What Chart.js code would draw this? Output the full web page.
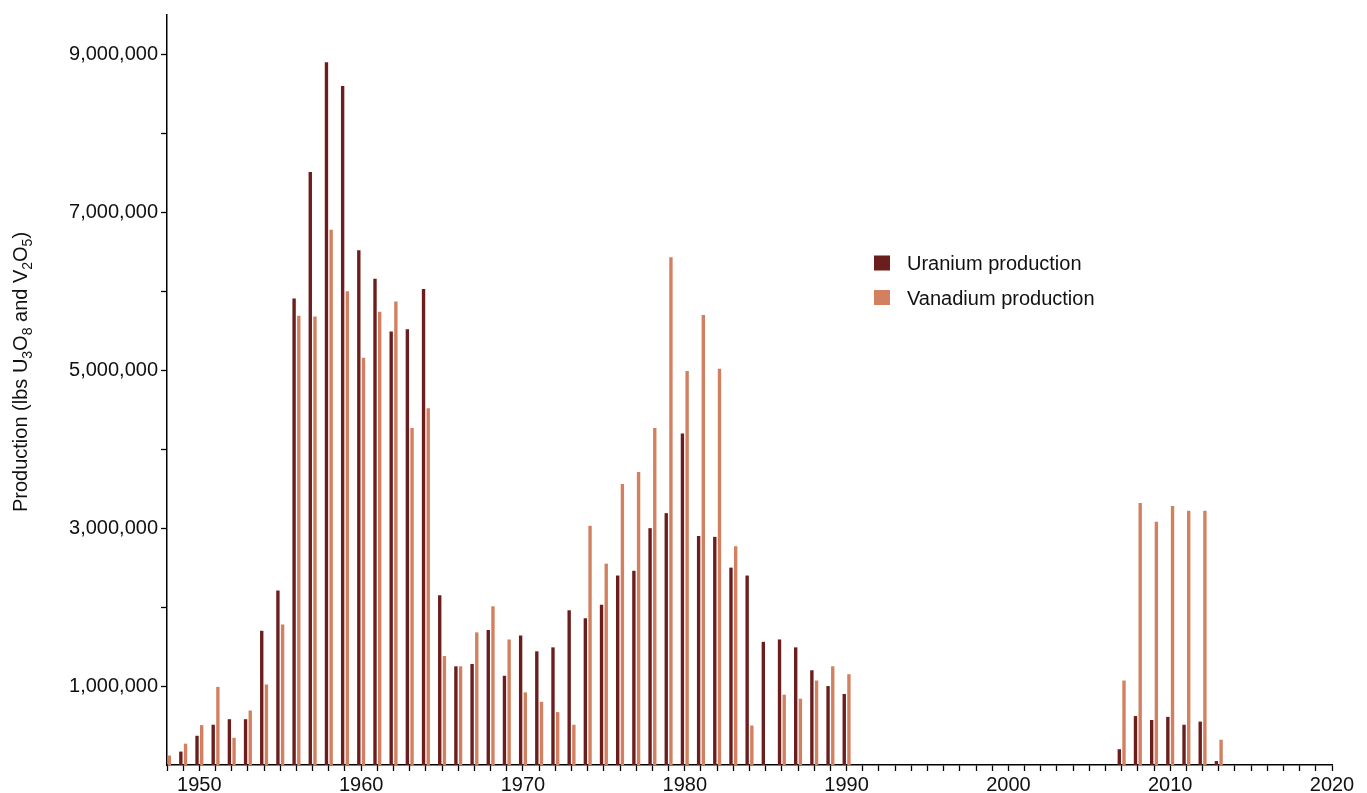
<!DOCTYPE html>
<html>
<head>
<meta charset="utf-8">
<script src="https://cdn.jsdelivr.net/npm/chart.js@4.4.1/dist/chart.umd.min.js"></script>
<style>
  html, body { margin: 0; padding: 0; background: #ffffff; }
  #wrap { width: 1367px; height: 793px; position: relative; }
</style>
</head>
<body>
<div id="wrap"><canvas id="chart"></canvas></div>
<script>
// Annual production, pounds of U3O8 and V2O5
const years = [
  1948, 1949, 1950, 1951, 1952, 1953, 1954, 1955, 1956, 1957,
  1958, 1959, 1960, 1961, 1962, 1963, 1964, 1965, 1966, 1967,
  1968, 1969, 1970, 1971, 1972, 1973, 1974, 1975, 1976, 1977,
  1978, 1979, 1980, 1981, 1982, 1983, 1984, 1985, 1986, 1987,
  1988, 1989, 1990,
  2007, 2008, 2009, 2010, 2011, 2012, 2013
];

const uranium = [
  null,    170000,  370000,  510000,  580000,  580000,  1700000, 2210000, 5910000, 7510000,
  8900000, 8600000, 6520000, 6160000, 5490000, 5520000, 6030000, 2150000, 1250000, 1280000,
  1710000, 1130000, 1640000, 1440000, 1490000, 1960000, 1860000, 2030000, 2400000, 2460000,
  3000000, 3190000, 4200000, 2900000, 2890000, 2500000, 2400000, 1560000, 1590000, 1490000,
  1200000, 1000000, 900000,
  200000,  620000,  570000,  610000,  510000,  550000,  50000
];

const vanadium = [
  120000,  270000,  505000,  990000,  345000,  690000,  1020000, 1780000, 5690000, 5680000,
  6780000, 6000000, 5160000, 5740000, 5870000, 4270000, 4520000, 1380000, 1250000, 1680000,
  2010000, 1590000, 920000,  800000,  670000,  510000,  3030000, 2550000, 3560000, 3710000,
  4270000, 6430000, 4990000, 5700000, 5020000, 2770000, 500000,  null,    890000,  840000,
  1070000, 1250000, 1150000,
  1070000, 3320000, 3080000, 3280000, 3220000, 3220000, 320000
];

const seriesNames = ['Uranium production', 'Vanadium production'];
const seriesColors = ['#6b1e1d', '#d2805f'];

// Tick marks on the value axis, and the ones that carry a label
const yTickValues = [1000000, 2000000, 3000000, 4000000, 5000000, 6000000, 7000000, 8000000, 9000000];
const yLabelValues = [1000000, 3000000, 5000000, 7000000, 9000000];
const xLabelYears = [1950, 1960, 1970, 1980, 1990, 2000, 2010, 2020];

const FONT = "'Liberation Sans', Arial, Helvetica, sans-serif";
const INK = '#111111';

function toPoints(values) {
  return years.map((yr, i) => ({ x: yr, y: values[i] }));
}

// Rotated y-axis title with chemical-formula subscripts
const axisTitlePlugin = {
  id: 'axisTitle',
  afterDraw(chart) {
    const ctx = chart.ctx;
    const parts = [
      ['Production (lbs U', false], ['3', true], ['O', false], ['8', true],
      [' and V', false], ['2', true], ['O', false], ['5', true], [')', false]
    ];
    const base = 20, sub = 14;
    ctx.save();
    let total = 0;
    parts.forEach(([t, s]) => {
      ctx.font = (s ? sub : base) + 'px ' + FONT;
      total += ctx.measureText(t).width;
    });
    ctx.translate(27, 372);
    ctx.rotate(-Math.PI / 2);
    ctx.fillStyle = INK;
    ctx.textBaseline = 'alphabetic';
    ctx.textAlign = 'left';
    let x = -total / 2;
    parts.forEach(([t, s]) => {
      ctx.font = (s ? sub : base) + 'px ' + FONT;
      ctx.fillText(t, x, s ? 5 : 0);
      x += ctx.measureText(t).width;
    });
    ctx.restore();
  }
};

// Legend placed inside the plot area
const insideLegendPlugin = {
  id: 'insideLegend',
  afterDraw(chart) {
    const ctx = chart.ctx;
    ctx.save();
    ctx.font = '20px ' + FONT;
    ctx.textBaseline = 'alphabetic';
    ctx.textAlign = 'left';
    const baselines = [270, 304.5];
    chart.data.datasets.forEach((ds, i) => {
      const by = baselines[i];
      ctx.fillStyle = ds.backgroundColor;
      ctx.fillRect(874, by - 14.5, 16, 15);
      ctx.fillStyle = INK;
      ctx.fillText(ds.label, 907, by);
    });
    ctx.restore();
  }
};

new Chart(document.getElementById('chart'), {
  type: 'bar',
  data: {
    datasets: [
      { label: seriesNames[0], data: toPoints(uranium), backgroundColor: seriesColors[0] },
      { label: seriesNames[1], data: toPoints(vanadium), backgroundColor: seriesColors[1] }
    ]
  },
  options: {
    responsive: true,
    maintainAspectRatio: false,
    animation: false,
    devicePixelRatio: 1,
    categoryPercentage: 0.58,
    barPercentage: 0.72,
    layout: { padding: { left: 0, top: 12, right: 35, bottom: 0 } },
    plugins: {
      legend: { display: false },
      tooltip: { enabled: false }
    },
    scales: {
      x: {
        type: 'linear',
        min: 1948,
        max: 2020,
        offset: false,
        grid: {
          offset: false,
          drawOnChartArea: false,
          drawTicks: true,
          tickLength: 6,
          tickColor: '#000000',
          tickWidth: 1.3
        },
        border: { display: true, color: '#000000', width: 1.5 },
        ticks: {
          stepSize: 1,
          autoSkip: false,
          maxRotation: 0,
          padding: 2,
          color: INK,
          font: { family: FONT, size: 20 },
          callback: (v) => xLabelYears.includes(v) ? String(v) : ''
        },
        afterFit: (s) => { s.height = 28; }
      },
      y: {
        type: 'linear',
        position: 'left',
        min: 0,
        max: 9500000,
        grid: {
          drawOnChartArea: false,
          drawTicks: true,
          tickLength: 6,
          tickColor: '#000000',
          tickWidth: 1.3
        },
        border: { display: true, color: '#000000', width: 1.5 },
        ticks: {
          autoSkip: false,
          padding: 3,
          color: INK,
          font: { family: FONT, size: 20 },
          callback: (v) => yLabelValues.includes(v) ? v.toLocaleString('en-US') : ''
        },
        afterBuildTicks: (s) => {
          s.ticks = yTickValues.map(v => ({ value: v }));
        },
        afterFit: (s) => { s.width = 167; }
      }
    }
  },
  plugins: [axisTitlePlugin, insideLegendPlugin]
});
</script>
</body>
</html>
